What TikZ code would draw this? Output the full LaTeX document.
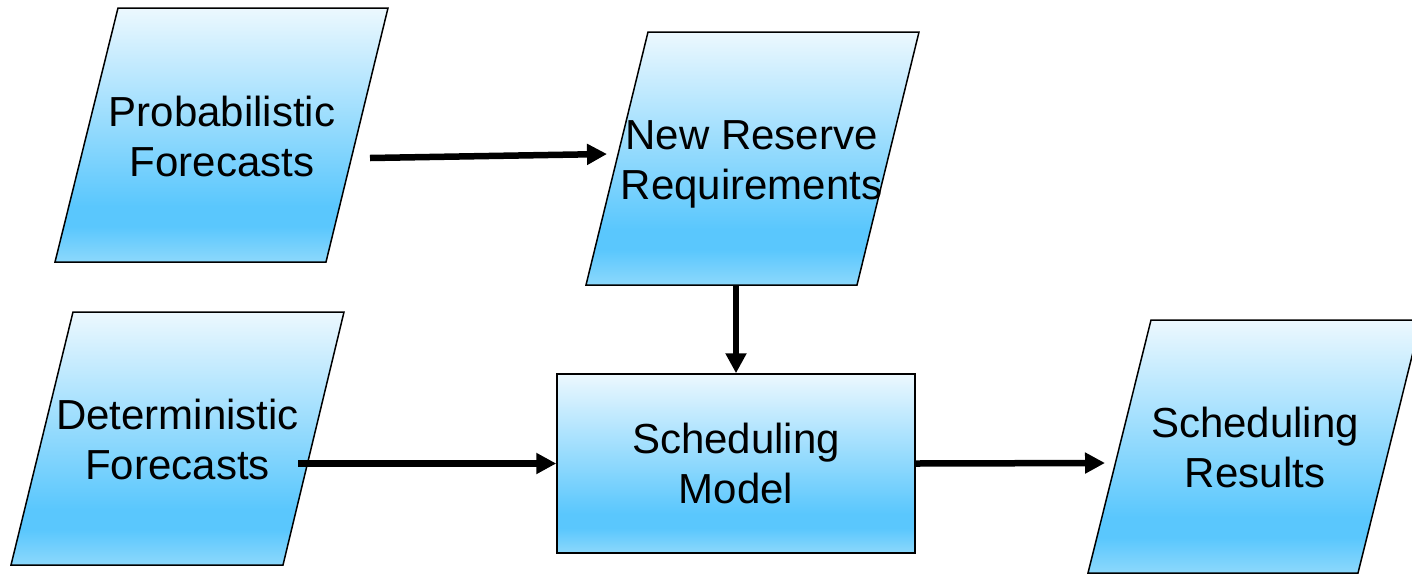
\documentclass[tikz,border=0pt]{standalone}
\usepackage{fontspec}
\setmainfont{Liberation Sans}
\usetikzlibrary{arrows.meta}
\definecolor{sbtop}{RGB}{236,248,254}
\definecolor{sbdeep}{RGB}{90,199,253}
\definecolor{sbbot}{RGB}{140,216,252}
\pgfdeclareverticalshading{boxshade}{100bp}{color(0bp)=(sbbot); color(25bp)=(sbbot); color(32bp)=(sbdeep); color(36bp)=(sbdeep); color(75bp)=(sbtop); color(100bp)=(sbtop)}
\tikzset{
  shapebox/.style={draw=black, line width=1.5pt, shade, shading=boxshade},
  lbl/.style={font=\fontsize{42}{50.5}\selectfont, align=center, inner sep=0pt, anchor=north},
  modelbox/.style={shapebox, font=\fontsize{42}{50.5}\selectfont, align=center, inner sep=0pt, minimum width=358pt, minimum height=179pt},
  arr/.style={line width=6.5pt, -{Triangle[length=20pt,width=20pt]}}
}
\begin{document}
\begin{tikzpicture}[x=1pt,y=-1pt]
\useasboundingbox (0,0) rectangle (1412,574);
% parallelogram shapes
\path[shapebox] (118,8) -- (388,8) -- (326,262) -- (55,262) -- cycle;
\path[shapebox] (648,32) -- (919,32) -- (857,285) -- (586,285) -- cycle;
\path[shapebox] (73,312) -- (344,312) -- (283,565) -- (11,565) -- cycle;
\path[shapebox] (1151,320) -- (1421,320) -- (1358,573) -- (1088,573) -- cycle;
% labels
\node[lbl] (prob) at (222,91) {\rule{0pt}{35pt}Probabilistic\\Forecasts};
\node[lbl] (nrr) at (751.5,114) {\rule{0pt}{35pt}New Reserve\\Requirements};
\node[lbl] (det) at (177.5,394) {\rule{0pt}{35pt}Deterministic\\Forecasts};
\node[lbl] (res) at (1255,402) {\rule{0pt}{35pt}Scheduling\\Results};
\node[modelbox] (model) at (736,463.5) {Scheduling\\Model};
% connector end points
\coordinate (p1s) at (370,158);
\coordinate (p1e) at (607,154);
\coordinate (p2s) at (736,286);
\coordinate (p3s) at (298,463.5);
\coordinate (p4e) at (1105,463);
% connectors
\draw[arr] (p1s) -- (p1e);
\draw[arr] (p2s) -- (model.north);
\draw[arr] (p3s) -- (model.west);
\draw[arr] (model.east) -- (p4e);
\end{tikzpicture}
\end{document}
